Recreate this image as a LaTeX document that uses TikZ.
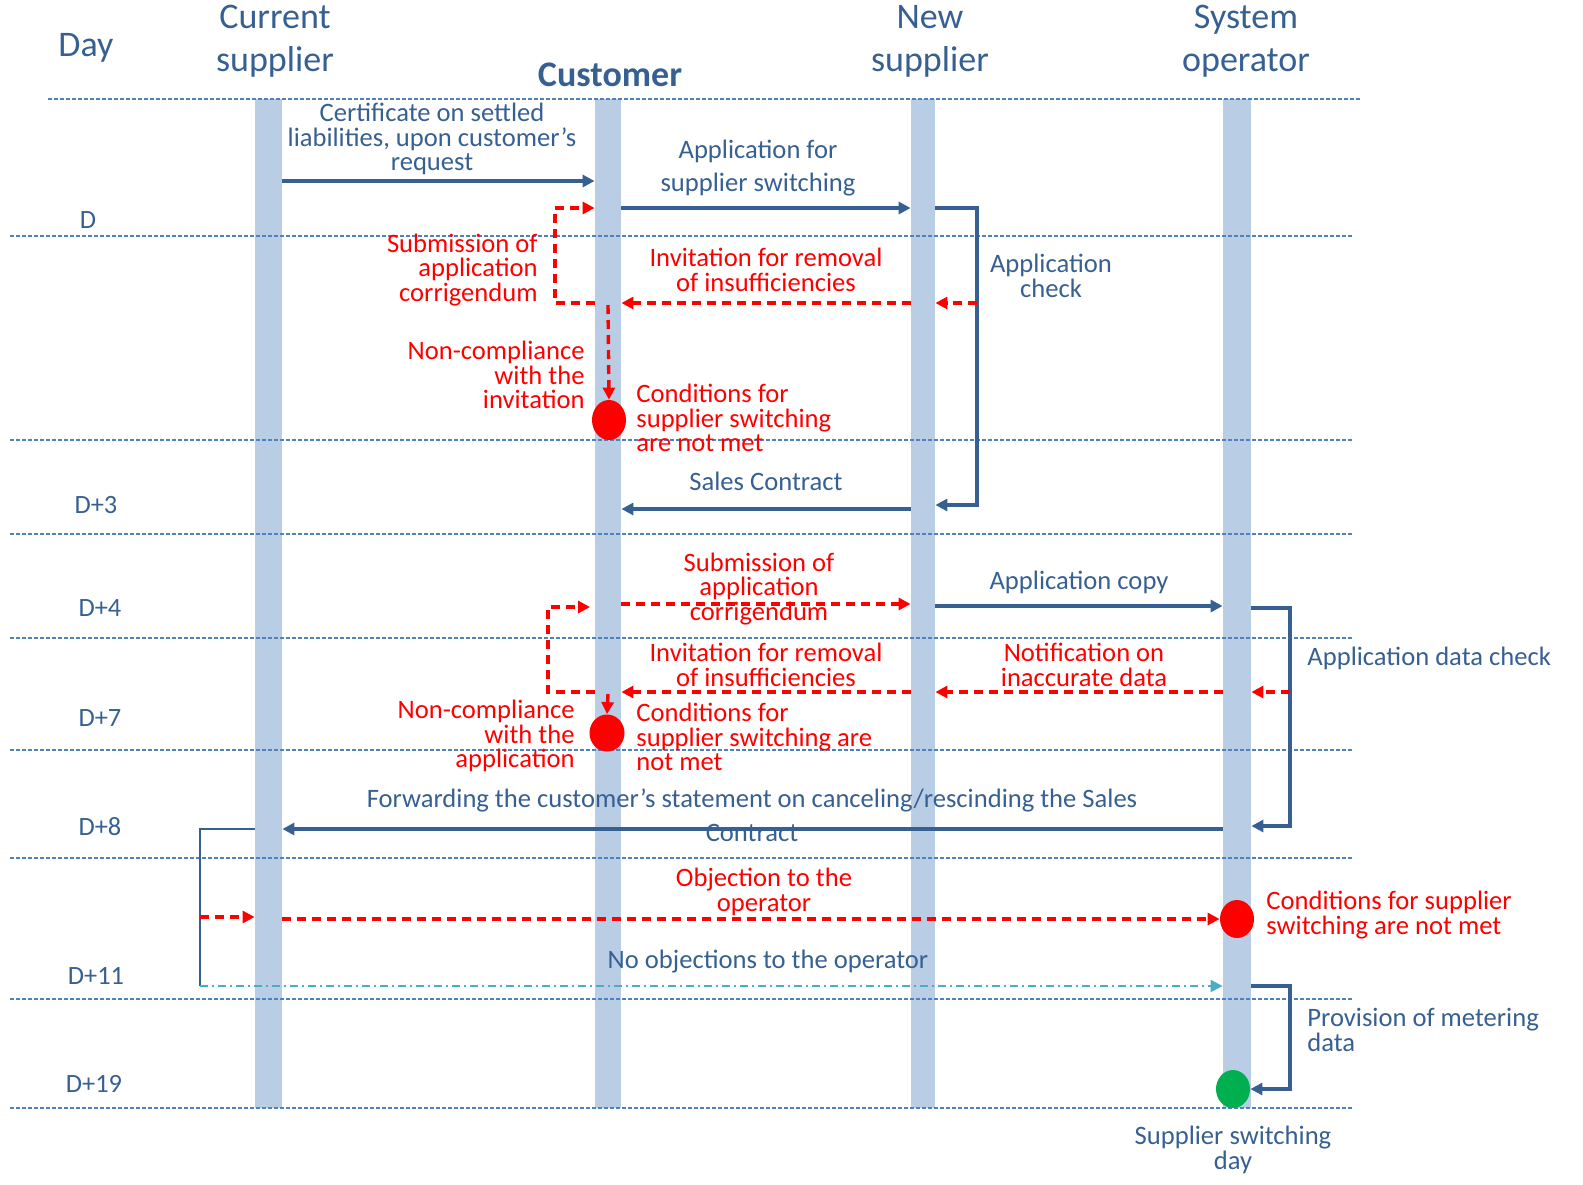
\documentclass[tikz,border=0pt]{standalone}
\usepackage{fontspec}
\setmainfont{Carlito}
\usetikzlibrary{arrows.meta,shapes.geometric}
\definecolor{tblue}{RGB}{55,96,146}
\definecolor{lane}{RGB}{185,205,229}
\definecolor{gridc}{RGB}{79,129,189}
\definecolor{cyanl}{RGB}{75,172,198}
\definecolor{grn}{RGB}{0,176,80}
\begin{document}
\begin{tikzpicture}[x=0.5pt,y=-0.5pt,
  hdr/.style={text=tblue, font=\fontsize{18}{21.5}\selectfont, align=center, inner sep=0pt},
  lbl/.style={text=tblue, font=\fontsize{13.3}{12.2}\selectfont, align=center, inner sep=0pt},
  rlbl/.style={lbl, text=red},
  daylbl/.style={text=tblue, font=\fontsize{13.2}{14}\selectfont, inner sep=0pt},
  gridline/.style={gridc, line width=0.6pt, dash pattern=on 2pt off 1pt},
  lanebar/.style={fill=lane, draw=none, inner sep=0pt, minimum height=504.5pt},
  tip/.style={-{Triangle[length=6pt,width=6pt]}},
  msg/.style={tblue, line width=1.6pt, tip},
  bline/.style={tblue, line width=1.3pt},
  rmsg/.style={red, line width=1.7pt, dash pattern=on 4.5pt off 3pt, tip},
  cmsg/.style={cyanl, line width=1pt, dash pattern=on 4pt off 2pt on 1pt off 2pt, tip},
  dot/.style={ellipse, inner sep=0pt, draw=none}
]
\useasboundingbox (0,0) rectangle (1583,1184);

% lifelines
\node[lanebar, minimum width=13.5pt] (cs) at (268.5,603.5) {};
\node[lanebar, minimum width=13pt] (cu) at (608,603.5) {};
\node[lanebar, minimum width=12pt] (ns) at (923,603.5) {};
\node[lanebar, minimum width=14pt] (so) at (1237,603.5) {};

% grid lines
\draw[gridline] (48,99) -- (1360,99);
\foreach \yy in {236,440,534,638,750,858,999,1108}
  \draw[gridline] (10,\yy) -- (1352,\yy);

% headers
\node[hdr] (hday) at (86,48) {Day};
\node[hdr] (hcs) at (275,41.5) {Current\\supplier};
\node[hdr, font=\bfseries\fontsize{18}{20}\selectfont] (hcu) at (610,75) {Customer};
\node[hdr] (hns) at (930,41.5) {New\\supplier};
\node[hdr] (hso) at (1246,41.5) {System\\operator};

% day labels
\node[daylbl] (d0) at (88,220) {D};
\node[daylbl] (d3) at (96,505) {D+3};
\node[daylbl] (d4) at (100,608) {D+4};
\node[daylbl] (d7) at (100,718) {D+7};
\node[daylbl] (d8) at (100,827) {D+8};
\node[daylbl] (d11) at (96,976) {D+11};
\node[daylbl] (d19) at (94,1084) {D+19};

% dots
\node[dot, fill=red, minimum width=17pt, minimum height=20pt] (x1) at (609,420) {};
\node[dot, fill=red, minimum width=17.5pt, minimum height=18.5pt] (x2) at (607,733) {};
\node[dot, fill=red, minimum width=17pt, minimum height=19pt] (x3) at (1237,919) {};
\node[dot, fill=grn, minimum width=17pt, minimum height=19pt] (ok) at (1233,1089) {};

% helper coordinates
\coordinate (k1) at (977,208);
\coordinate (k2) at (977,505);
\coordinate (k3) at (977,303);
\coordinate (l1a) at (555,303);
\coordinate (l1b) at (555,208);
\coordinate (m1) at (1290,608);
\coordinate (m2) at (1290,826);
\coordinate (m3) at (1290,692);
\coordinate (l2a) at (548,692);
\coordinate (l2b) at (548,607);
\coordinate (l2c) at (590,607);
\coordinate (f1) at (200,829);
\coordinate (f2) at (200,986);
\coordinate (f3) at (200,917);
\coordinate (p1) at (1290,986);
\coordinate (p2) at (1290,1089);

% connectors: day D
\draw[msg] (cs.east |- 0,181) -- (cu.west |- 0,181);
\draw[msg] (cu.east |- 0,208) -- (ns.west |- 0,208);
\draw[msg] (ns.east |- 0,208) -- (k1) -- (k2) -- (ns.east |- 0,505);
\draw[rmsg] (k3) -- (ns.east |- 0,303);
\draw[rmsg] (ns.west |- 0,303) -- (cu.east |- 0,303);
\draw[rmsg] (cu.west |- 0,303) -- (l1a) -- (l1b) -- (cu.west |- 0,208);
\draw[rmsg] (cu.center |- 0,305) -- (x1.north);
\draw[msg] (ns.west |- 0,509) -- (cu.east |- 0,509);

% D+4 .. D+7
\draw[rmsg] (cu.east |- 0,604) -- (ns.west |- 0,604);
\draw[msg] (ns.east |- 0,606) -- (so.west |- 0,606);
\draw[msg] (so.east |- 0,608) -- (m1) -- (m2) -- (so.east |- 0,826);
\draw[rmsg] (m3) -- (so.east |- 0,692);
\draw[rmsg] (so.west |- 0,692) -- (ns.east |- 0,692);
\draw[rmsg] (ns.west |- 0,692) -- (cu.east |- 0,692);
\draw[rmsg] (cu.west |- 0,692) -- (l2a) -- (l2b) -- (l2c);
\draw[rmsg] (cu.center |- 0,694) -- (x2.north);

% D+8 .. D+19
\draw[msg] (so.west |- 0,829) -- (cs.east |- 0,829);
\draw[bline] (cs.west |- 0,829) -- (f1) -- (f2);
\draw[rmsg] (f3) -- (cs.west |- 0,917);
\draw[rmsg] (cs.east |- 0,919) -- (x3.west);
\draw[cmsg] (f2) -- (so.west |- 0,986);
\draw[msg] (so.east |- 0,986) -- (p1) -- (p2) -- (ok.east);

% labels
\node[lbl] (tcert) at (432,139) {Certificate on settled\\liabilities, upon customer’s\\request};
\node[lbl, font=\fontsize{13.3}{16.5}\selectfont] (tapp) at (758,168) {Application for\\supplier switching};
\node[lbl] (tchk) at (1051,276) {Application\\check};
\node[rlbl, anchor=east, align=right] (tsub1) at (538,270) {Submission of\\application\\corrigendum};
\node[rlbl] (tinv1) at (766,270) {Invitation for removal\\of insufficiencies};
\node[rlbl, anchor=east, align=right] (tnc1) at (585,375) {Non-compliance\\with the\\invitation};
\node[rlbl, anchor=west, align=left] (tcond1) at (636,418) {Conditions for\\supplier switching\\are not met};
\node[lbl] (tsales) at (766,481) {Sales Contract};
\node[rlbl] (tsub2) at (759,589) {Submission of\\application\\corrigendum};
\node[lbl] (tcopy) at (1079,582) {Application copy};
\node[lbl, anchor=west] (tadc) at (1307,658) {Application data check};
\node[rlbl] (tnot) at (1084,665) {Notification on\\inaccurate data};
\node[rlbl] (tinv2) at (766,665) {Invitation for removal\\of insufficiencies};
\node[rlbl, anchor=east, align=right] (tnc2) at (575,736) {Non-compliance\\with the\\application};
\node[rlbl, anchor=west, align=left] (tcond2) at (636,737) {Conditions for\\supplier switching are\\not met};
\node[lbl, font=\fontsize{13.3}{17}\selectfont] (tfwd) at (752,815) {Forwarding the customer’s statement on canceling/rescinding the Sales\\Contract};
\node[rlbl] (tobj) at (764,892) {Objection to the\\operator};
\node[rlbl, anchor=west, align=left] (tcond3) at (1266,915) {Conditions for supplier\\switching are not met};
\node[lbl] (tnoobj) at (768,962) {No objections to the operator};
\node[lbl, anchor=west, align=left] (tprov) at (1307,1030) {Provision of metering\\data};
\node[lbl] (tssd) at (1233,1150) {Supplier switching\\day};
\end{tikzpicture}
\end{document}
